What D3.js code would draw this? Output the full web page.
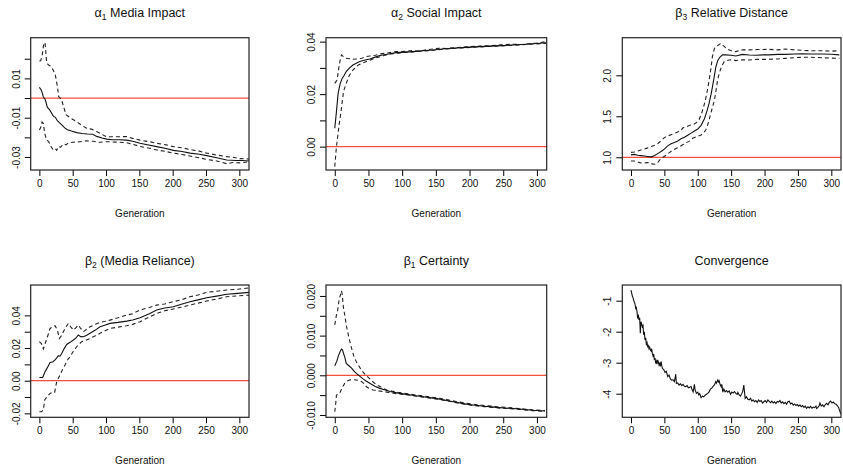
<!DOCTYPE html>
<html>
<head>
<meta charset="utf-8">
<script src="https://cdn.jsdelivr.net/npm/d3@7"></script>
<style>
  body { margin: 0; background: #fff; }
  text { font-family: "Liberation Sans", Arial, sans-serif; fill: #111; }
</style>
</head>
<body>
<div id="grafico"></div>
<script>
// Generazioni (asse X, comune a tutti i pannelli)
var genTicks = [0, 50, 100, 150, 200, 250, 300];

// alpha1 Media Impact: [generazione, valore]
var a1Mean = [[0,0.0054],[3,0.0040],[6,0.0007],[9,-0.0010],[12,-0.0048],[15,-0.0058],[18,-0.0075],[21,-0.0092],[24,-0.0098],[27,-0.0115],[30,-0.0125],[34,-0.0138],[38,-0.0152],[42,-0.0161],[48,-0.0168],[56,-0.0176],[64,-0.0180],[72,-0.0183],[80,-0.0184],[86,-0.0195],[94,-0.0203],[101,-0.0209],[110,-0.0212],[120,-0.0212],[131,-0.0214],[140,-0.0220],[151,-0.0230],[160,-0.0236],[176,-0.0247],[190,-0.0257],[201,-0.0266],[214,-0.0272],[226,-0.0280],[240,-0.0286],[251,-0.0293],[266,-0.0304],[281,-0.0315],[295,-0.0318],[305,-0.0318],[315,-0.0320]];
var a1Up = [[0,0.0188],[2,0.0190],[4,0.0212],[6,0.0262],[7,0.0280],[8.5,0.0282],[10,0.0220],[11,0.0178],[14,0.0168],[18,0.0160],[21,0.0140],[24,0.0117],[27,0.0060],[29,0.0007],[33,-0.0005],[36,-0.0040],[40,-0.0085],[46,-0.0100],[56,-0.0120],[64,-0.0140],[71,-0.0154],[78,-0.0158],[86,-0.0170],[94,-0.0185],[101,-0.0197],[115,-0.0197],[131,-0.0196],[140,-0.0205],[151,-0.0214],[165,-0.0222],[176,-0.0230],[190,-0.0238],[201,-0.0247],[214,-0.0253],[226,-0.0262],[240,-0.0270],[251,-0.0280],[266,-0.0290],[281,-0.0298],[292,-0.0302],[300,-0.0308],[315,-0.0310]];
var a1Lo = [[0,-0.0163],[2,-0.0150],[4,-0.0122],[6,-0.0130],[8,-0.0180],[11,-0.0214],[14,-0.0222],[18,-0.0250],[21,-0.0264],[24,-0.0258],[26,-0.0266],[28.5,-0.0247],[32,-0.0250],[36,-0.0234],[40,-0.0238],[44,-0.0227],[50,-0.0225],[61,-0.0222],[70,-0.0218],[81,-0.0220],[90,-0.0225],[101,-0.0222],[115,-0.0224],[131,-0.0227],[140,-0.0235],[151,-0.0246],[165,-0.0255],[176,-0.0264],[190,-0.0272],[201,-0.0280],[214,-0.0287],[226,-0.0295],[240,-0.0304],[251,-0.0312],[266,-0.0320],[281,-0.0334],[290,-0.0328],[301,-0.0330],[315,-0.0324]];

// alpha2 Social Impact
var a2Mean = [[0,0.0070],[2,0.0120],[5,0.0203],[8,0.0240],[11,0.0260],[14,0.0272],[17,0.0286],[22,0.0300],[27,0.0311],[32,0.0318],[37,0.0324],[45,0.0330],[52,0.0334],[60,0.0341],[67,0.0347],[80,0.0353],[91,0.0358],[105,0.0360],[116,0.0362],[130,0.0365],[146,0.0368],[160,0.0372],[175,0.0375],[195,0.0378],[215,0.0381],[240,0.0384],[264,0.0387],[290,0.0391],[314,0.0396]];
var a2Up = [[0,0.0241],[3.5,0.0254],[6,0.0300],[8,0.0330],[10,0.0349],[13,0.0343],[17,0.0337],[22,0.0335],[27,0.0333],[33,0.0334],[40,0.0337],[46,0.0343],[52,0.0345],[60,0.0348],[67,0.0353],[78,0.0357],[91,0.0362],[105,0.0363],[116,0.0366],[128,0.0364],[135,0.0369],[146,0.0372],[155,0.0375],[165,0.0374],[175,0.0377],[195,0.0380],[215,0.0383],[240,0.0386],[250,0.0389],[264,0.0390],[280,0.0389],[290,0.0393],[300,0.0395],[314,0.0400]];
var a2Lo = [[0,-0.0076],[2.5,0.0000],[4,0.0030],[6.4,0.0083],[9,0.0127],[11,0.0170],[13,0.0210],[17,0.0241],[21,0.0268],[25,0.0286],[30,0.0300],[35,0.0311],[41,0.0318],[47,0.0324],[54,0.0331],[62,0.0339],[72,0.0346],[82,0.0353],[94,0.0356],[106,0.0360],[116,0.0361],[130,0.0364],[146,0.0367],[160,0.0371],[175,0.0374],[195,0.0377],[215,0.0380],[240,0.0383],[264,0.0386],[290,0.0390],[314,0.0394]];

// beta3 Relative Distance
var b3Mean = [[0,1.03],[5,1.035],[10,1.025],[15,1.02],[20,1.015],[25,1.01],[30,1.005],[35,1.02],[40,1.045],[45,1.07],[50,1.10],[55,1.14],[60,1.165],[65,1.18],[70,1.20],[75,1.225],[80,1.245],[85,1.27],[90,1.295],[95,1.32],[100,1.345],[105,1.39],[110,1.47],[114,1.57],[117,1.66],[120,1.77],[122,1.86],[125,2.00],[127,2.10],[130,2.18],[133,2.22],[137,2.25],[142,2.25],[150,2.245],[157,2.236],[167,2.255],[177,2.248],[187,2.245],[197,2.25],[206,2.25],[220,2.255],[231,2.255],[245,2.26],[256,2.262],[270,2.26],[286,2.26],[300,2.258],[312,2.25]];
var b3Up = [[0,1.06],[5,1.065],[10,1.075],[15,1.09],[20,1.10],[25,1.115],[30,1.13],[35,1.145],[40,1.165],[45,1.20],[50,1.24],[55,1.26],[60,1.275],[65,1.29],[70,1.31],[75,1.33],[78,1.36],[82,1.37],[88,1.39],[93,1.40],[98,1.423],[102,1.46],[105,1.516],[109,1.62],[112,1.72],[115,1.84],[117,1.94],[120,2.10],[122,2.23],[125,2.33],[128,2.35],[131,2.37],[134.6,2.39],[137,2.37],[140,2.35],[144,2.32],[150,2.30],[157,2.289],[165,2.31],[177,2.31],[190,2.315],[206,2.317],[220,2.31],[231,2.32],[245,2.31],[256,2.305],[270,2.30],[286,2.30],[300,2.295],[312,2.30]];
var b3Lo = [[0,0.955],[5,0.955],[8.4,0.947],[13,0.935],[18,0.927],[24,0.935],[28,0.935],[32,0.92],[35.6,0.915],[40,0.935],[43,0.967],[48,1.0],[53,1.028],[58,1.06],[63,1.089],[68,1.11],[73,1.13],[78,1.155],[83,1.179],[88,1.20],[92.6,1.232],[98,1.25],[105,1.272],[109,1.30],[112,1.333],[115,1.40],[117,1.455],[121,1.58],[125,1.699],[128,1.85],[129.7,1.943],[132,2.02],[134.6,2.085],[137,2.13],[139.6,2.167],[143,2.18],[147,2.187],[152,2.19],[157,2.18],[167,2.19],[177,2.187],[190,2.195],[206,2.195],[220,2.20],[231,2.207],[245,2.215],[256,2.22],[270,2.22],[286,2.215],[300,2.21],[312,2.207]];

// beta2 (Media Reliance)
var b2Mean = [[0,0.0020],[5,0.0020],[8.5,0.0055],[12,0.0080],[16,0.0112],[20,0.0115],[23.5,0.0127],[26,0.0140],[28.5,0.0153],[31,0.0150],[33.5,0.0167],[37,0.0195],[41,0.0222],[46,0.0235],[51,0.0249],[55,0.0262],[58.5,0.0280],[62,0.0270],[66,0.0269],[71,0.0278],[76,0.0290],[84,0.0310],[91,0.0330],[98,0.0340],[106,0.0351],[118,0.0357],[131,0.0365],[140,0.0372],[151,0.0386],[165,0.0410],[176,0.0433],[188,0.0445],[201,0.0453],[213,0.0468],[226,0.0484],[238,0.0495],[251,0.0508],[266,0.0518],[281,0.0529],[298,0.0535],[315,0.0541]];
var b2Up = [[0,0.0239],[3,0.0228],[6,0.0194],[10,0.0243],[13,0.0280],[16,0.0320],[20,0.0330],[23.5,0.0337],[27,0.0310],[30,0.0259],[33,0.0275],[36,0.0300],[40,0.0330],[43.5,0.0351],[47,0.0330],[51,0.0310],[55,0.0325],[58.5,0.0341],[62,0.0320],[66,0.0300],[71,0.0315],[76,0.0330],[84,0.0345],[91,0.0357],[98,0.0362],[106,0.0371],[118,0.0385],[131,0.0402],[140,0.0410],[151,0.0433],[165,0.0448],[176,0.0463],[188,0.0470],[201,0.0484],[213,0.0495],[226,0.0514],[238,0.0525],[251,0.0541],[266,0.0548],[281,0.0555],[298,0.0560],[315,0.0569]];
var b2Lo = [[0,-0.0190],[3,-0.0190],[6,-0.0180],[8,-0.0118],[12,-0.0095],[16,-0.0078],[21,-0.0067],[23,-0.0070],[26,-0.0006],[31,0.0035],[35,0.0070],[38.5,0.0096],[42,0.0125],[46,0.0147],[51,0.0180],[56,0.0208],[60,0.0225],[63.5,0.0239],[68,0.0245],[76,0.0259],[84,0.0275],[91,0.0290],[98,0.0305],[106,0.0320],[118,0.0328],[131,0.0337],[140,0.0345],[151,0.0361],[165,0.0390],[176,0.0412],[188,0.0428],[201,0.0439],[213,0.0450],[226,0.0463],[238,0.0475],[251,0.0488],[266,0.0500],[281,0.0514],[298,0.0520],[315,0.0524]];

// beta1 Certainty
var b1Mean = [[0,0.0024],[3,0.0035],[5,0.0047],[8,0.0060],[10,0.0066],[11.5,0.0064],[13,0.0055],[15,0.0045],[17,0.0030],[21,0.0024],[25,0.0018],[28,0.0012],[32,0.0005],[37,-0.0002],[42,-0.0009],[47,-0.0015],[52,-0.0020],[60,-0.0028],[67,-0.0033],[75,-0.0037],[82,-0.0041],[94,-0.0045],[106,-0.0048],[118,-0.0051],[131,-0.0054],[143,-0.0057],[156,-0.0060],[168,-0.0064],[180,-0.0068],[193,-0.0072],[205,-0.0075],[222,-0.0078],[240,-0.0081],[257,-0.0083],[274,-0.0085],[293,-0.0088],[312,-0.0090]];
var b1Up = [[0,0.0127],[2.5,0.0152],[4,0.0160],[6.4,0.0190],[8,0.0200],[10,0.0213],[11,0.0205],[13,0.0169],[15,0.0150],[17,0.0127],[21,0.0095],[25,0.0068],[28,0.0050],[32,0.0034],[37,0.0020],[42,0.0008],[47,-0.0001],[52,-0.0009],[57,-0.0017],[62,-0.0024],[70,-0.0031],[77,-0.0037],[85,-0.0040],[94,-0.0043],[106,-0.0046],[118,-0.0049],[131,-0.0052],[143,-0.0055],[156,-0.0058],[168,-0.0062],[180,-0.0066],[193,-0.0070],[205,-0.0073],[222,-0.0076],[240,-0.0079],[257,-0.0081],[274,-0.0084],[293,-0.0087],[312,-0.0089]];
var b1Lo = [[0,-0.0092],[1.5,-0.0070],[2.5,-0.0050],[5,-0.0048],[7.4,-0.0045],[10,-0.0035],[12,-0.0028],[15,-0.0020],[18,-0.0015],[22,-0.0012],[27,-0.0011],[32,-0.0012],[36,-0.0013],[40,-0.0016],[44,-0.0022],[47,-0.0029],[52,-0.0034],[57,-0.0037],[64,-0.0039],[72,-0.0041],[80,-0.0043],[87,-0.0045],[94,-0.0047],[106,-0.0049],[118,-0.0052],[131,-0.0055],[143,-0.0058],[156,-0.0061],[168,-0.0065],[180,-0.0069],[193,-0.0073],[205,-0.0076],[222,-0.0079],[240,-0.0082],[257,-0.0084],[274,-0.0086],[293,-0.0089],[312,-0.0091]];

// Convergence
var conv = [[0,-0.66],[1,-0.75],[2,-0.85],[3,-0.90],[4,-0.98],[5,-1.05],[6,-1.10],[7,-1.25],[8,-1.22],[9,-1.35],[10,-1.57],[11,-1.45],[12,-1.62],[13,-1.55],[14,-2.05],[15,-1.68],[16,-1.75],[17,-1.84],[18,-1.80],[19,-2.10],[20,-2.00],[21,-2.27],[22,-2.20],[23,-2.40],[24,-2.35],[25,-2.48],[26,-2.45],[27,-2.55],[28,-2.50],[29,-2.59],[30,-2.62],[31,-2.55],[32,-2.70],[33,-2.78],[34,-2.72],[35,-2.91],[36,-2.85],[37,-3.02],[38,-2.95],[39,-3.05],[40,-2.91],[41,-2.98],[42,-3.07],[43,-3.00],[44,-3.12],[45,-2.96],[46,-3.08],[47,-3.18],[49,-3.22],[51,-3.31],[53,-3.28],[55,-3.45],[57,-3.40],[59,-3.52],[61,-3.56],[63,-3.55],[65,-3.61],[66,-3.50],[67,-3.37],[68,-3.67],[70,-3.65],[72,-3.72],[74,-3.68],[76,-3.74],[78,-3.70],[80,-3.76],[82,-3.77],[84,-3.74],[86,-3.81],[88,-3.79],[90,-3.77],[91,-3.84],[93,-3.94],[94,-3.83],[95,-3.70],[96,-3.88],[98,-3.99],[100,-3.95],[101.5,-4.04],[103,-4.00],[105,-4.13],[107,-4.08],[109,-4.10],[111,-4.05],[113,-4.02],[115,-3.99],[117,-3.94],[119,-3.85],[121,-3.82],[123,-3.76],[125,-3.72],[127,-3.61],[128,-3.66],[130,-3.56],[131,-3.62],[132,-3.58],[133,-3.67],[135,-3.77],[136,-3.70],[137.5,-3.95],[139,-3.85],[141,-3.94],[143,-3.90],[145,-3.95],[147,-3.91],[149,-4.02],[151,-3.95],[153,-3.98],[155,-3.93],[157,-3.99],[159,-4.02],[160,-3.96],[162,-4.04],[164,-4.08],[166,-3.99],[167,-3.94],[168,-3.85],[169,-3.72],[170,-3.95],[171,-4.15],[173,-4.10],[175,-4.18],[177,-4.20],[179,-4.15],[181,-4.24],[183,-4.20],[185,-4.26],[187,-4.22],[189,-4.28],[191,-4.20],[193,-4.25],[195,-4.22],[197,-4.30],[199,-4.26],[201,-4.22],[203,-4.28],[205,-4.20],[207,-4.25],[209,-4.29],[211,-4.24],[213,-4.30],[215,-4.26],[217,-4.32],[219,-4.25],[221,-4.27],[223,-4.22],[225,-4.30],[227,-4.26],[229,-4.32],[231,-4.28],[233,-4.34],[235,-4.26],[237,-4.24],[239,-4.33],[241,-4.30],[243,-4.37],[245,-4.33],[247,-4.38],[249,-4.35],[251,-4.40],[253,-4.36],[255,-4.42],[257,-4.38],[259,-4.44],[261,-4.40],[263,-4.47],[265,-4.42],[267,-4.46],[269,-4.41],[271,-4.47],[273,-4.43],[275,-4.45],[277,-4.40],[278,-4.48],[280,-4.44],[282,-4.38],[283,-4.30],[285,-4.40],[287,-4.36],[289,-4.42],[291,-4.35],[293,-4.31],[295,-4.36],[297,-4.28],[299,-4.24],[301,-4.30],[303,-4.27],[305,-4.32],[307,-4.34],[309,-4.38],[311,-4.45],[313,-4.58],[314,-4.65]];

// Tacche e etichette dell'asse Y per ogni pannello
var a1Ticks = [-0.03, -0.02, -0.01, 0, 0.01, 0.02];
var a1Labels = {"-0.03": "-0.03", "-0.01": "-0.01", "0.01": "0.01"};
var a2Ticks = [0, 0.01, 0.02, 0.03, 0.04];
var a2Labels = {"0": "0.00", "0.02": "0.02", "0.04": "0.04"};
var b3Ticks = [1.0, 1.5, 2.0];
var b3Labels = {"1": "1.0", "1.5": "1.5", "2": "2.0"};
var b2Ticks = [-0.02, -0.01, 0, 0.01, 0.02, 0.03, 0.04];
var b2Labels = {"-0.02": "-0.02", "0": "0.00", "0.02": "0.02", "0.04": "0.04"};
var b1Ticks = [-0.01, -0.005, 0, 0.005, 0.01, 0.015, 0.02];
var b1Labels = {"-0.01": "-0.010", "0": "0.000", "0.01": "0.010", "0.02": "0.020"};
var convTicks = [-4, -3, -2, -1];
var convLabels = {"-4": "-4", "-3": "-3", "-2": "-2", "-1": "-1"};

// Descrizione dei pannelli (posizione del riquadro e limiti)
var pannelli = [
	{greek: "\u03b1", sub: "1", title: " Media Impact", x: 30.7, y: 37.7, w: 218.3, h: 132.3,
		yDom: [-0.0366, 0.0307], ticks: a1Ticks, labels: a1Labels, mean: a1Mean, up: a1Up, lo: a1Lo, ref: 0},
	{greek: "\u03b1", sub: "2", title: " Social Impact", x: 326, y: 37.7, w: 220.7, h: 132.3,
		yDom: [-0.0089, 0.0415], ticks: a2Ticks, labels: a2Labels, mean: a2Mean, up: a2Up, lo: a2Lo, ref: 0},
	{greek: "\u03b2", sub: "3", title: " Relative Distance", x: 622.3, y: 37.7, w: 218.7, h: 132.3,
		yDom: [0.845, 2.459], ticks: b3Ticks, labels: b3Labels, mean: b3Mean, up: b3Up, lo: b3Lo, ref: 1},
	{greek: "\u03b2", sub: "2", title: " (Media Reliance)", x: 30.7, y: 285, w: 218.3, h: 132.3,
		yDom: [-0.0224, 0.0586], ticks: b2Ticks, labels: b2Labels, mean: b2Mean, up: b2Up, lo: b2Lo, ref: 0},
	{greek: "\u03b2", sub: "1", title: " Certainty", x: 326, y: 285, w: 220.7, h: 132.3,
		yDom: [-0.01059, 0.02276], ticks: b1Ticks, labels: b1Labels, mean: b1Mean, up: b1Up, lo: b1Lo, ref: 0},
	{greek: "", sub: "", title: "Convergence", x: 622.3, y: 285, w: 218.7, h: 132.3,
		yDom: [-4.761, -0.494], ticks: convTicks, labels: convLabels, mean: conv, up: null, lo: null, ref: null}
];

var svg = d3.select("#grafico")
	.append("svg")
	.attr("width", 843)
	.attr("height", 471);

pannelli.forEach(function(p, i) {
	var g = svg.append("g")
		.attr("transform", "translate(" + p.x + "," + p.y + ")");

	var x = d3.scaleLinear()
		.domain([-13, 314.5])
		.range([0, p.w]);
	var y = d3.scaleLinear()
		.domain(p.yDom)
		.range([p.h, 0]);

	// ritaglio delle linee dentro il riquadro
	g.append("clipPath")
		.attr("id", "clip" + i)
		.append("rect")
		.attr("width", p.w)
		.attr("height", p.h);

	// Asse X
	var ax = g.append("g")
		.attr("transform", "translate(0," + p.h + ")")
		.call(d3.axisBottom(x).tickValues(genTicks).tickSize(6).tickPadding(4));
	ax.select(".domain").remove();
	ax.selectAll("text").style("font-size", "10px").attr("fill", "#111");

	// Asse Y con etichette ruotate
	var ay = g.append("g")
		.call(d3.axisLeft(y).tickValues(p.ticks).tickSize(6)
			.tickFormat(function(d) { return p.labels[String(+d.toFixed(4))] || ""; }));
	ay.select(".domain").remove();
	ay.selectAll("text")
		.style("font-size", "10px")
		.attr("fill", "#111")
		.attr("transform", "rotate(-90)")
		.attr("x", 0)
		.attr("y", -11)
		.attr("dy", 0)
		.attr("text-anchor", "middle");

	var linea = d3.line()
		.x(function(d) { return x(d[0]); })
		.y(function(d) { return y(d[1]); });

	var area = g.append("g").attr("clip-path", "url(#clip" + i + ")");

	// linea rossa di riferimento
	if (p.ref !== null) {
		area.append("line")
			.attr("x1", 0)
			.attr("x2", p.w)
			.attr("y1", y(p.ref))
			.attr("y2", y(p.ref))
			.attr("stroke", "#f0503c")
			.attr("stroke-width", 1.3);
	}

	[p.up, p.lo].forEach(function(s) {
		if (!s) return;
		area.append("path")
			.datum(s)
			.attr("d", linea)
			.attr("fill", "none")
			.attr("stroke", "#222")
			.attr("stroke-width", 1.1)
			.attr("stroke-dasharray", "4,3");
	});

	area.append("path")
		.datum(p.mean)
		.attr("d", linea)
		.attr("fill", "none")
		.attr("stroke", "#111")
		.attr("stroke-width", 1.1);

	// riquadro
	g.append("rect")
		.attr("width", p.w)
		.attr("height", p.h)
		.attr("fill", "none")
		.attr("stroke", "#222")
		.attr("stroke-width", 1.2);

	// titolo con pedice
	var t = g.append("text")
		.attr("x", p.w / 2)
		.attr("y", -20.5)
		.attr("text-anchor", "middle")
		.style("font-size", "12.5px");
	if (p.greek) {
		t.append("tspan").text(p.greek);
		t.append("tspan").attr("dy", 3).style("font-size", "8.5px").text(p.sub);
		t.append("tspan").attr("dy", -3).text(p.title);
	} else {
		t.text(p.title);
	}

	g.append("text")
		.attr("x", p.w / 2)
		.attr("y", p.h + 47)
		.attr("text-anchor", "middle")
		.style("font-size", "10px")
		.text("Generation");
});
</script>
</body>
</html>
